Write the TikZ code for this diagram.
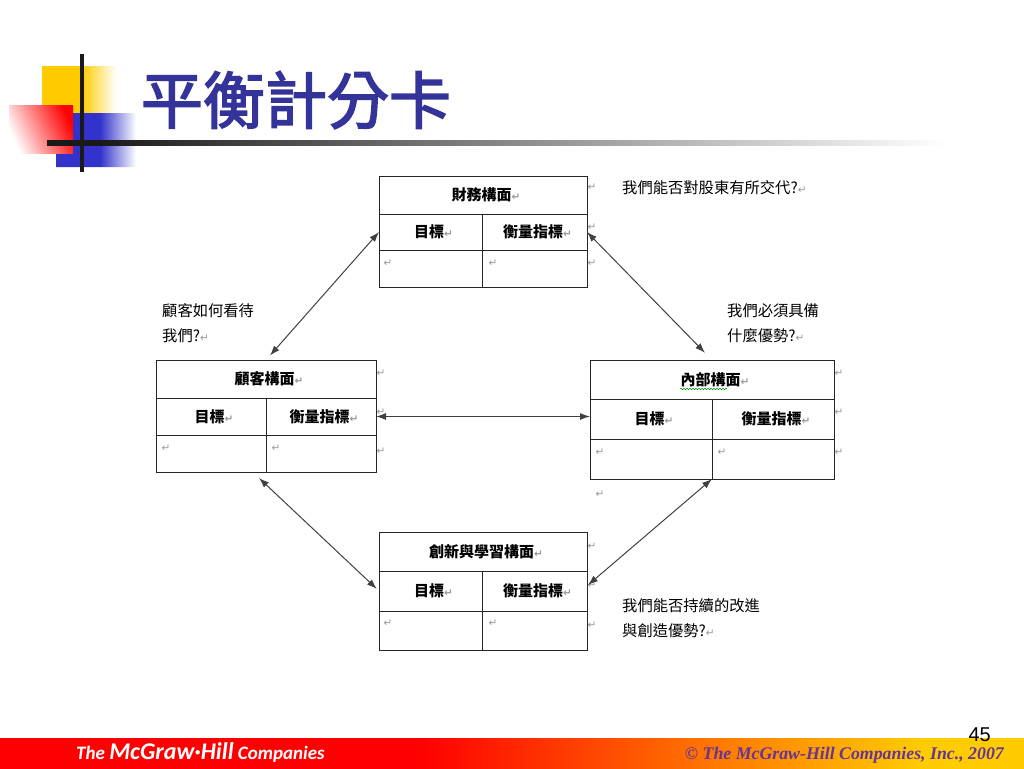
\documentclass[tikz,border=0pt]{standalone}
\usepackage{fontspec}
\usepackage{xcolor}
\setmainfont{Liberation Serif}
\newfontfamily\cjk{Noto Sans CJK TC}
\newfontfamily\titlefont[FakeBold=2.6]{Noto Sans CJK TC}
\newfontfamily\retfont{DejaVu Sans}
\newfontfamily\logofont{Carlito}
\newfontfamily\numfont{Liberation Sans}
\usetikzlibrary{arrows, arrows.meta}
\usetikzlibrary{calc}
\usetikzlibrary{decorations.pathmorphing}
\definecolor{titleblue}{HTML}{333399}
\definecolor{boxblue}{HTML}{3333CC}
\definecolor{boxyellow}{HTML}{FFCC00}
\definecolor{copypurple}{HTML}{663399}
\definecolor{retgray}{HTML}{999999}
\definecolor{rulegray}{HTML}{1A1A1A}
\pgfdeclarehorizontalshading{footerfade}{100bp}{color(0bp)=(red); color(45.5bp)=(red); color(70bp)=(boxyellow); color(100bp)=(boxyellow)}
\pgfdeclarehorizontalshading{rulefade}{100bp}{color(0bp)=(rulegray); color(28bp)=(rulegray); color(75bp)=(white); color(100bp)=(white)}
\pgfdeclarehorizontalshading{bluefade}{100bp}{color(0bp)=(boxblue); color(52.5bp)=(boxblue); color(75bp)=(white); color(100bp)=(white)}
\pgfdeclarehorizontalshading{yellowfade}{100bp}{color(0bp)=(boxyellow); color(52bp)=(boxyellow); color(75bp)=(white); color(100bp)=(white)}
\newcommand\retsym{\textcolor{retgray}{\retfont\fontsize{10.5}{10.5}\selectfont ↵}}
\newcommand\cellbox[6]{\node[cell, minimum width={(#4-#2)*1pt}, minimum height={(#5-#3)*1pt}] (#1) at ({(#2+#4)/2},{(#3+#5)/2}){\hspace{6pt}#6};}
\tikzset{
	cell/.style={draw=black!85, line width=1pt, inner sep=0pt, outer sep=0pt, font=\cjk\bfseries\fontsize{15}{15}\selectfont},
	question/.style={anchor=west, align=left, inner sep=0pt, font=\cjk\fontsize{15.3}{25}\selectfont},
	retmark/.style={inner sep=0pt},
	link/.style={{Latex[length=10pt,width=7pt]}-{Latex[length=10pt,width=7pt]}, draw=black!75, line width=1pt},
}
\begin{document}
\begin{tikzpicture}[x=1pt, y=-1pt]
	\useasboundingbox (0,0) rectangle (1024,768);
	\shade[shading=yellowfade] (42,66) rectangle (116,113);
	\shade[shading=bluefade] (73,113) -- (136,113) -- (136,167) -- (56,167) -- (56,153) -- (73,153) -- cycle;
	\shade[shading=axis, top color=red, bottom color=white, shading angle=-65] (9,105) rectangle (73,153);
	\shade[shading=rulefade] (47,140.8) rectangle (945,145.2);
	\fill[rulegray] (80,54) rectangle (84,172);
	\node[inner sep=0pt, text=titleblue, font=\titlefont\fontsize{62}{62}\selectfont] (title) at (296,100){平衡計分卡};

	\cellbox{finHead}{379}{176}{587}{214}{財務構面\retsym}
	\cellbox{finGoal}{379}{214}{482}{250}{目標\retsym}
	\cellbox{finMeas}{482}{214}{587}{250}{衡量指標\retsym}
	\cellbox{finGoalBox}{379}{250}{482}{287}{}
	\cellbox{finMeasBox}{482}{250}{587}{287}{}

	\cellbox{cusHead}{156}{360}{376}{398}{顧客構面\retsym}
	\cellbox{cusGoal}{156}{398}{266}{435}{目標\retsym}
	\cellbox{cusMeas}{266}{398}{376}{435}{衡量指標\retsym}
	\cellbox{cusGoalBox}{156}{435}{266}{472}{}
	\cellbox{cusMeasBox}{266}{435}{376}{472}{}

	\cellbox{intHead}{590}{360}{834}{399}{內部構面\retsym}
	\cellbox{intGoal}{590}{399}{712}{439}{目標\retsym}
	\cellbox{intMeas}{712}{399}{834}{439}{衡量指標\retsym}
	\cellbox{intGoalBox}{590}{439}{712}{479}{}
	\cellbox{intMeasBox}{712}{439}{834}{479}{}

	\cellbox{lrnHead}{379}{532}{587}{571}{創新與學習構面\retsym}
	\cellbox{lrnGoal}{379}{571}{482}{611}{目標\retsym}
	\cellbox{lrnMeas}{482}{571}{587}{611}{衡量指標\retsym}
	\cellbox{lrnGoalBox}{379}{611}{482}{650}{}
	\cellbox{lrnMeasBox}{482}{611}{587}{650}{}

	\draw[green!55!black, line width=0.5pt, decorate, decoration={snake, amplitude=0.7pt, segment length=3pt}] (680,389) -- (727,389);

	\foreach \name/\x/\y in {a/592/187, b/592/227, c/592/263, d/388/263, e/493/263,
		f/381/373, g/381/412, h/381/451, i/166/448, j/276/448,
		k/839/373, l/839/412, m/839/452, n/600/452, o/722/452, p/600/494,
		q/592/546, r/592/585, s/592/625, t/388/623, u/493/623}
		\node[retmark] (mark\name) at (\x,\y){\retsym};

	\node[question] (askFin) at (622,188){我們能否對股東有所交代?\retsym};
	\node[question] (askCus) at (162,323.5){顧客如何看待\\我們?\retsym};
	\node[question] (askInt) at (727,323.5){我們必須具備\\什麼優勢?\retsym};
	\node[question] (askLrn) at (622,618.5){我們能否持續的改進\\與創造優勢?\retsym};

	\coordinate (cusFoot) at (259,478);
	\coordinate (lrnSide) at (588,585);
	\draw[link, shorten >=6pt] (finGoal.west) -- (cusHead.north);
	\draw[link, shorten >=10pt] (finMeas.east) -- (intHead.north);
	\draw[link] (cusMeas.east) -- (cusMeas.east -| intGoal.west);
	\draw[link, shorten >=3pt] (cusFoot) -- (lrnGoal.west);
	\draw[link] (intGoalBox.south east) -- (lrnSide);

	\shade[shading=footerfade] (0,738) rectangle (1024,768);
	\node[anchor=west, inner sep=0pt, text=white, font=\logofont\bfseries\itshape\fontsize{19}{19}\selectfont] (logo) at (76,753){The {\fontsize{24}{24}\selectfont McGraw·Hill} Companies};
	\node[anchor=east, inner sep=0pt, text=copypurple, font=\bfseries\itshape\fontsize{17.8}{17.8}\selectfont] (copy) at (1004,755){© The McGraw-Hill Companies, Inc., 2007};
	\node[anchor=east, inner sep=0pt, font=\numfont\fontsize{20}{20}\selectfont] (page) at (991,735){45};
\end{tikzpicture}
\end{document}
